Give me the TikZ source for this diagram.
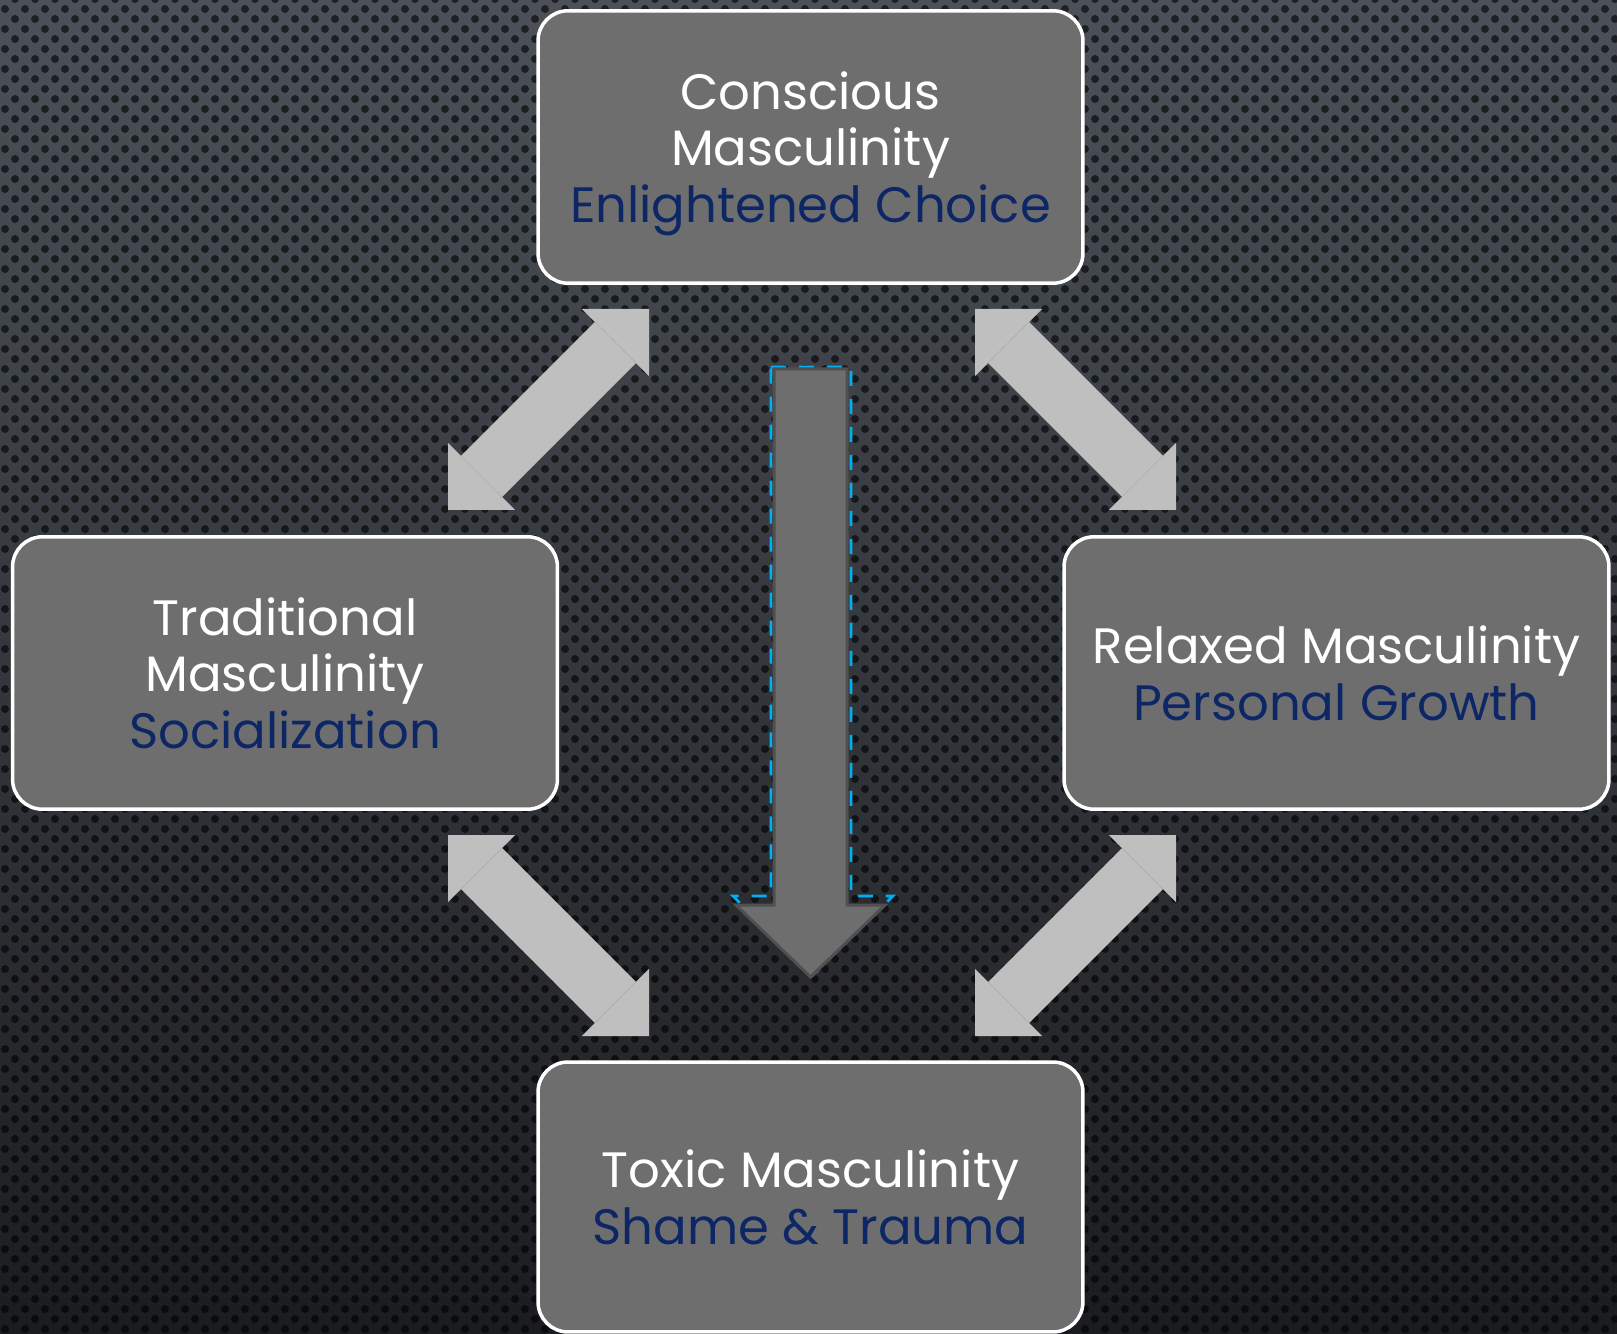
\documentclass[tikz,border=0pt]{standalone}
\usepackage{fontspec}
\setmainfont{Poppins}
\usetikzlibrary{arrows.meta}
\usetikzlibrary{patterns}

\definecolor{bgtop}{RGB}{76,81,89}
\definecolor{bgmid}{RGB}{52,55,60}
\definecolor{bgbot}{RGB}{27,28,31}
\definecolor{boxgray}{RGB}{110,110,110}
\definecolor{arrowgray}{RGB}{191,191,191}
\definecolor{arrowedge}{RGB}{80,80,80}
\definecolor{selcyan}{RGB}{0,176,240}
\definecolor{navy}{RGB}{12,38,102}

% carbon fibre dots, 20px tile
\pgfdeclarepatternformonly{carbondots}{\pgfpoint{0cm}{0cm}}{\pgfpoint{0.4cm}{0.4cm}}{\pgfpoint{0.4cm}{0.4cm}}{
  \pgfpathcircle{\pgfpoint{0.1cm}{0.1cm}}{0.08cm}
  \pgfpathcircle{\pgfpoint{0.3cm}{0.3cm}}{0.08cm}
  \pgfusepath{fill}}

\tikzset{
  box/.style={draw=white, line width=0.07cm, fill=boxgray, rounded corners=0.6cm,
    minimum width=10.9cm, minimum height=5.45cm, text=white, align=center,
    text depth=0pt, font=\fontsize{28.3}{32.3}\selectfont},
  dblarrow/.style={draw=arrowgray, line width=1.16cm,
    {Triangle[length=0.95cm,width=1.9cm,line width=0pt]}-{Triangle[length=0.95cm,width=1.9cm,line width=0pt]}}
}

\begin{document}
\begin{tikzpicture}[x=0.02cm,y=-0.02cm]
\useasboundingbox (0,0) rectangle (1617,1334);
% background
\shade[top color=bgtop, middle color=bgmid, bottom color=bgbot] (0,0) rectangle (1617,1334);
\fill[pattern=carbondots, pattern color=black, fill opacity=0.6] (0,0) rectangle (1617,1334);

% boxes
\node[box] (cons) at (810.5,147) {Conscious\\Masculinity\\\textcolor{navy}{Enlightened Choice}};
\node[box] (trad) at (285,673) {Traditional\\Masculinity\\\textcolor{navy}{Socialization}};
\node[box] (relax) at (1336.5,673) {Relaxed Masculinity\\\textcolor{navy}{Personal Growth}};
\node[box, minimum height=5.4cm] (toxic) at (810.5,1197) {Toxic Masculinity\\\textcolor{navy}{Shame \& Trauma}};

% double arrows between the boxes
\coordinate (ct) at (649,309);
\coordinate (tc) at (448,510);
\coordinate (cr) at (975,309);
\coordinate (rc) at (1176,510);
\coordinate (tt) at (448,835);
\coordinate (tx) at (649,1036);
\coordinate (rt) at (1176,835);
\coordinate (rx) at (975,1036);
\draw[dblarrow] (ct) -- (tc);
\draw[dblarrow] (cr) -- (rc);
\draw[dblarrow] (tt) -- (tx);
\draw[dblarrow] (rt) -- (rx);

% centre arrow
\draw[selcyan, line width=0.055cm, dash pattern=on 0.3cm off 0.26cm]
  (771,367) -- (851,367) -- (851,896) -- (893,896) -- (812,976) -- (733,896) -- (771,896) -- cycle;
\filldraw[fill=boxgray, draw=arrowedge, line width=0.06cm]
  (774,369) -- (847,369) -- (847,905) -- (885,905) -- (810.5,977) -- (736,905) -- (774,905) -- cycle;
\end{tikzpicture}
\end{document}
